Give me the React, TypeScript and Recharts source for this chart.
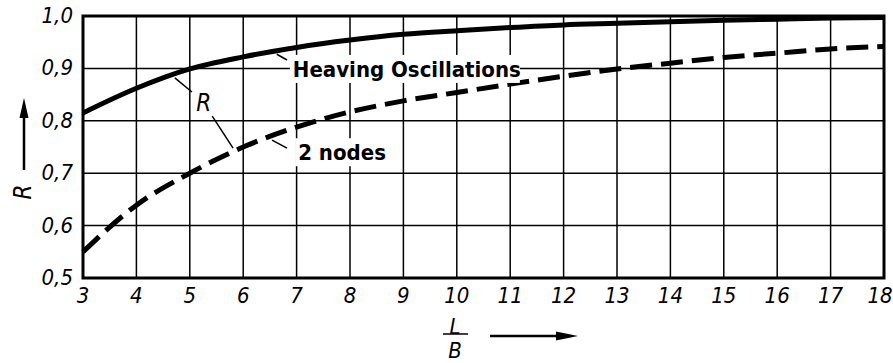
import React from "react";
import {
  LineChart,
  Line,
  XAxis,
  YAxis,
  CartesianGrid,
  ReferenceArea,
  ReferenceLine,
  ReferenceDot,
} from "recharts";

// Length-to-beam ratio L/B
const ratios = [3, 4, 5, 6, 7, 8, 9, 10, 11, 12, 13, 14, 15, 16, 17, 18];
// Reduction factor R for heaving oscillations
const heaving = [0.815, 0.862, 0.899, 0.922, 0.94, 0.954, 0.965, 0.972, 0.978, 0.983, 0.986, 0.989, 0.992, 0.994, 0.996, 0.997];
// Reduction factor R for 2-node vibration
const twoNodes = [0.55, 0.639, 0.7, 0.75, 0.788, 0.817, 0.838, 0.854, 0.87, 0.885, 0.899, 0.91, 0.921, 0.929, 0.937, 0.942];

const xTicks = [3, 4, 5, 6, 7, 8, 9, 10, 11, 12, 13, 14, 15, 16, 17, 18];
const yTicks = [0.5, 0.6, 0.7, 0.8, 0.9, 1.0];

const data = ratios.map((r, i) => ({ r, heaving: heaving[i], nodes: twoNodes[i] }));

const TICK_FONT = "'DejaVu Sans Condensed', 'Liberation Sans Narrow', sans-serif";
const LABEL_FONT = "'DejaVu Sans Condensed', 'Liberation Sans Narrow', sans-serif";

const XTick = (props: any) => {
  const { x, y, payload } = props;
  const isLast = payload.value === xTicks[xTicks.length - 1];
  return (
    <text
      x={isLast ? x - 4 : x}
      y={y + 17}
      textAnchor="middle"
      fontFamily={TICK_FONT}
      fontStyle="italic"
      fontSize={22}
      fill="#000"
    >
      {payload.value}
    </text>
  );
};

const YTick = (props: any) => {
  const { x, y, payload } = props;
  return (
    <text x={x - 2} y={y + 7} textAnchor="end" fontFamily={TICK_FONT} fontStyle="italic" fontSize={22} fill="#000">
      {Number(payload.value).toFixed(1).replace(".", ",")}
    </text>
  );
};

const makeLabel = (text: string, width: number, italic = false, size = 22, bold = true) => (props: any) => {
  const { cx, cy } = props;
  return (
    <g>
      {width > 0 && <rect x={cx - 3} y={cy - 14} width={width} height={28} fill="#fff" />}
      <text
        x={cx}
        y={cy + 8}
        fontFamily={LABEL_FONT}
        fontWeight={bold ? 700 : 400}
        fontStyle={italic ? "italic" : "normal"}
        fontSize={size}
        fill="#000"
      >
        {text}
      </text>
    </g>
  );
};

const leaders = [
  [{ x: 5.04, y: 0.855 }, { x: 4.72, y: 0.882 }],
  [{ x: 5.42, y: 0.809 }, { x: 5.81, y: 0.748 }],
  [{ x: 6.63, y: 0.927 }, { x: 6.82, y: 0.916 }],
  [{ x: 6.54, y: 0.763 }, { x: 6.82, y: 0.748 }],
];

export default function App() {
  return (
    <div style={{ position: "absolute", left: 0, top: 0, width: 893, height: 363, background: "#fff" }}>
      <LineChart
        width={893}
        height={363}
        data={data}
        margin={{ top: 16, right: 9, bottom: 55, left: 13 }}
      >
        <CartesianGrid stroke="#000" strokeWidth={1.5} horizontalValues={yTicks} verticalValues={xTicks} />
        <XAxis
          dataKey="r"
          type="number"
          domain={[3, 18]}
          ticks={xTicks}
          height={30}
          axisLine={false}
          tickLine={false}
          tick={<XTick />}
          interval={0}
        />
        <YAxis
          type="number"
          domain={[0.5, 1.0]}
          ticks={yTicks}
          width={70}
          axisLine={false}
          tickLine={false}
          tick={<YTick />}
          interval={0}
        />
        <ReferenceArea x1={3} x2={18} y1={0.5} y2={1.0} fill="none" stroke="#000" strokeWidth={3} />
        {leaders.map((seg, i) => (
          <ReferenceLine key={i} segment={seg} stroke="#000" strokeWidth={1.5} />
        ))}
        <Line
          dataKey="heaving"
          type="monotone"
          stroke="#000"
          strokeWidth={5}
          dot={false}
          isAnimationActive={false}
        />
        <Line
          dataKey="nodes"
          type="monotone"
          stroke="#000"
          strokeWidth={5}
          strokeDasharray="22 9"
          dot={false}
          isAnimationActive={false}
        />
        <ReferenceDot x={6.93} y={0.899} r={0} shape={makeLabel("Heaving Oscillations", 230)} />
        <ReferenceDot x={7.03} y={0.74} r={0} shape={makeLabel("2 nodes", 70)} />
        <ReferenceDot x={5.12} y={0.834} r={0} shape={makeLabel("R", 0, true, 24, false)} />
      </LineChart>
      <svg
        width={893}
        height={363}
        style={{ position: "absolute", left: 0, top: 0, pointerEvents: "none" }}
      >
        {/* y-axis title with upward arrow */}
        <text
          x={0}
          y={0}
          transform="translate(31,192) rotate(-90)"
          textAnchor="middle"
          fontFamily={LABEL_FONT}
          fontStyle="italic"
          fontSize={24}
          fill="#000"
        >
          R
        </text>
        <line x1={24} y1={170} x2={24} y2={116} stroke="#000" strokeWidth={2.5} />
        <path d="M19.5,118 L24,98 L28.5,118 Z" fill="#000" />
        {/* x-axis title L/B with arrow */}
        <text x={455} y={334} textAnchor="middle" fontFamily={LABEL_FONT} fontStyle="italic" fontSize={22} fill="#000">
          L
        </text>
        <line x1={443} y1={334} x2={468} y2={334} stroke="#000" strokeWidth={1.5} />
        <text x={455} y={358} textAnchor="middle" fontFamily={LABEL_FONT} fontStyle="italic" fontSize={22} fill="#000">
          B
        </text>
        <line x1={490} y1={336} x2={558} y2={336} stroke="#000" strokeWidth={2.5} />
        <path d="M556,331.5 L578,336 L556,340.5 Z" fill="#000" />
      </svg>
    </div>
  );
}
